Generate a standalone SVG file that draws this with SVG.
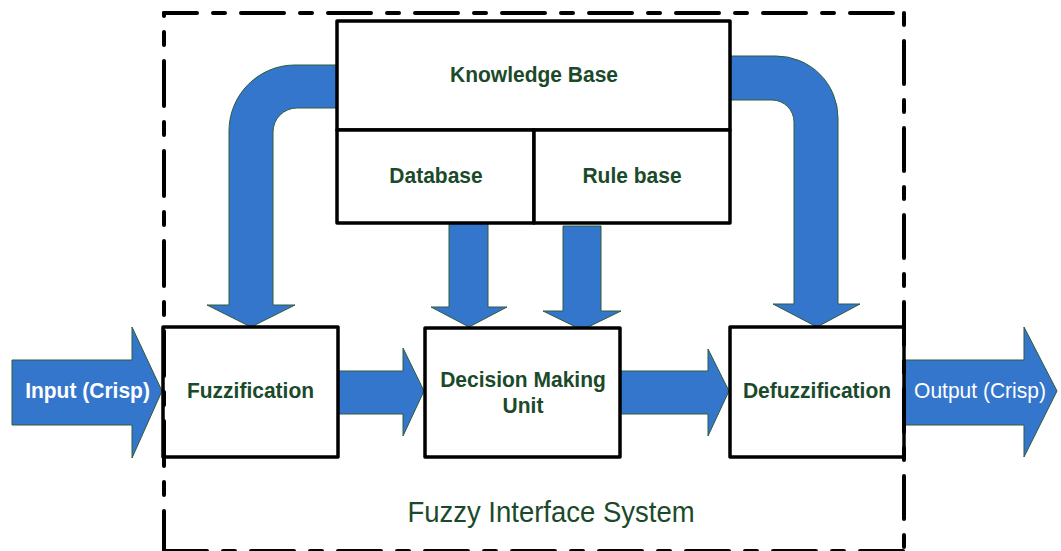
<svg xmlns="http://www.w3.org/2000/svg" width="1061" height="551" viewBox="0 0 1061 551">
  <style>
    .box { fill: #ffffff; stroke: #000000; stroke-width: 3.5; stroke-linejoin: round; }
    .flow { fill: #3476cc; stroke: #2f5a3c; stroke-width: 1; stroke-linejoin: miter; }
    .border { fill: none; stroke: #000000; stroke-width: 4; stroke-linecap: round; }
    .lbl { font-family: "Liberation Sans", Arial, sans-serif; font-size: 21px; font-weight: bold; fill: #1b4a2b; text-anchor: middle; }
    .io { font-family: "Liberation Sans", Arial, sans-serif; font-size: 21px; fill: #ffffff; text-anchor: middle; }
    .title { font-family: "Liberation Sans", Arial, sans-serif; font-size: 27.5px; fill: #1b4a2b; text-anchor: middle; }
  </style>

  <!-- block arrows between the stages -->
  <g id="connectors">
    <!-- crisp input into fuzzification -->
    <path class="flow" d="M12,360 H132 V327 L162,391 L132,458 V425 H12 Z"/>
    <!-- fuzzification to decision making -->
    <path class="flow" d="M338,371 H403 V348 L424,391 L403,436 V414 H338 Z"/>
    <!-- decision making to defuzzification -->
    <path class="flow" d="M620,371 H708 V349 L729,391 L708,436 V414 H620 Z"/>
    <!-- crisp output -->
    <path class="flow" d="M905,360 H1024 V327 L1057,391 L1024,457 V425 H905 Z"/>
    <!-- database down to decision making -->
    <path class="flow" d="M449,223 H488 V307 H507 L469,327 L431,307 H449 Z"/>
    <!-- rule base down to decision making -->
    <path class="flow" d="M563,226 H601 V311 H621 L582,330 L543,311 H563 Z"/>
    <!-- knowledge base feeding fuzzification -->
    <path class="flow" d="M338,65 H295 A66,66 0 0 0 229,131 V305 H207 L251,327 L295,305 H273 V132 A24,24 0 0 1 297,108 H338 Z"/>
    <!-- knowledge base feeding defuzzification -->
    <path class="flow" d="M729,56 H776 A62,62 0 0 1 838,118 V304 H860 L817,327 L773,304 H794 V122 A22,22 0 0 0 772,100 H729 Z"/>
  </g>

  <!-- knowledge base with its two parts -->
  <g id="knowledge-base">
    <rect class="box" x="337" y="21" width="393" height="109"/>
    <text class="lbl" transform="translate(534 82) scale(1 1.09)">Knowledge Base</text>
  </g>
  <g id="database">
    <rect class="box" x="337" y="130" width="197" height="93"/>
    <text class="lbl" transform="translate(436 183) scale(1 1.09)">Database</text>
  </g>
  <g id="rule-base">
    <rect class="box" x="534" y="130" width="196" height="93"/>
    <text class="lbl" transform="translate(632 183) scale(1 1.09)">Rule base</text>
  </g>

  <!-- processing stages -->
  <g id="fuzzification">
    <rect class="box" x="163" y="327" width="175" height="130"/>
    <text class="lbl" transform="translate(250.5 398) scale(1 1.09)">Fuzzification</text>
  </g>
  <g id="decision-making-unit">
    <rect class="box" x="425" y="328" width="195" height="129"/>
    <text class="lbl" transform="translate(523 387) scale(1 1.09)">Decision Making</text>
    <text class="lbl" transform="translate(523 413) scale(1 1.09)">Unit</text>
  </g>
  <g id="defuzzification">
    <rect class="box" x="730" y="327" width="174" height="130"/>
    <text class="lbl" transform="translate(817 398) scale(1 1.09)">Defuzzification</text>
  </g>

  <!-- arrow captions -->
  <g id="input-crisp">
    <text class="io" font-weight="bold" transform="translate(87.5 398) scale(1 1.09)">Input (Crisp)</text>
  </g>
  <g id="output-crisp">
    <text class="io" transform="translate(980 398) scale(1 1.09)">Output (Crisp)</text>
  </g>

  <!-- dash-dot system boundary -->
  <g id="fuzzy-interface-system">
    <path class="border" d="M164,13 H904" stroke-dasharray="43 16 12 16" stroke-dashoffset="10"/>
    <path class="border" d="M164,13 V551" stroke-dasharray="45 16 13 16" stroke-dashoffset="42"/>
    <path class="border" d="M904,13 V551" stroke-dasharray="43 16 12 16" stroke-dashoffset="59"/>
    <path class="border" d="M164,551 H904" stroke-dasharray="43 16 12 16"/>
    <text class="title" transform="translate(551 522) scale(1 1.09)">Fuzzy Interface System</text>
  </g>
</svg>
